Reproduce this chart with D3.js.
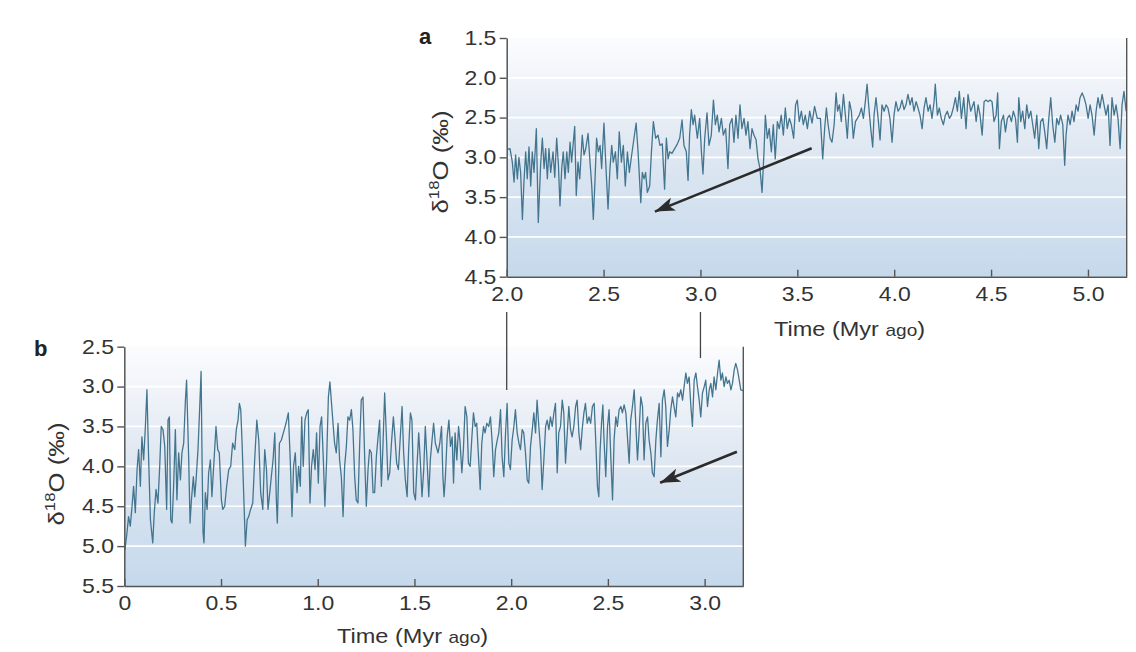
<!DOCTYPE html>
<html>
<head>
<meta charset="utf-8">
<title>δ18O records</title>
<script src="https://cdn.jsdelivr.net/npm/d3@7/dist/d3.min.js"></script>
<style>
body{margin:0;background:#fff;}
</style>
</head>
<body>
<div id="viz"></div>
<script>
// panel a : 2.0 - 5.2 Myr
var aTime = [
2.005,2.017,2.029,2.038,2.046,2.055,2.063,2.072,2.081,2.089,
2.098,2.106,2.115,2.124,2.132,2.141,2.153,2.163,2.175,2.184,
2.193,2.201,2.210,2.218,2.227,2.239,2.248,2.258,2.267,2.275,
2.284,2.292,2.301,2.310,2.318,2.327,2.335,2.351,2.359,2.368,
2.377,2.390,2.399,2.408,2.420,2.430,2.439,2.447,2.456,2.464,
2.473,2.482,2.490,2.502,2.511,2.523,2.533,2.542,2.550,2.561,
2.571,2.581,2.592,2.602,2.612,2.623,2.633,2.645,2.657,2.668,
2.678,2.692,2.700,2.709,2.717,2.726,2.738,2.747,2.757,2.769,
2.781,2.791,2.803,
2.815,2.824,2.833,2.841,2.853,2.867,2.881,2.893,2.905,2.915,
2.927,2.936,2.944,2.953,2.962,2.970,2.984,2.996,3.005,3.013,
3.022,3.034,3.044,3.056,3.067,3.077,3.087,3.096,3.108,3.118,
3.130,3.142,3.151,3.163,3.173,3.183,3.194,3.204,3.214,3.225,
3.235,3.245,3.256,3.266,3.276,3.287,3.297,3.307,3.318,3.328,
3.335,3.345,3.355,3.366,3.376,3.386,3.397,3.407,3.417,3.428,
3.438,3.448,3.459,3.469,3.481,3.491,3.500,3.510,3.521,3.531,
3.541,3.552,3.564,3.576,3.589,3.603,
3.619,3.631,3.641,3.650,3.659,3.669,3.679,3.690,3.700,3.708,
3.717,3.727,3.738,3.748,3.758,3.769,3.779,3.789,3.800,3.810,
3.820,3.831,3.841,3.851,3.860,3.868,3.879,3.889,3.896,3.906,
3.917,3.927,3.937,3.948,3.958,3.968,3.978,3.989,3.999,4.009,
4.020,4.030,4.040,4.051,4.061,4.071,4.082,4.092,4.102,4.113,
4.123,4.133,4.144,4.154,4.164,4.175,4.185,4.195,4.206,4.212,
4.223,4.233,4.243,4.254,4.264,4.274,4.285,4.295,4.305,4.316,
4.326,4.336,4.347,4.359,4.371,4.381,4.395,
4.412,4.423,4.433,4.443,4.454,4.464,4.474,4.485,4.495,4.505,
4.515,4.526,4.534,4.543,4.553,4.564,4.574,4.584,4.595,4.605,
4.615,4.626,4.636,4.643,4.653,4.663,4.674,4.684,4.694,4.705,
4.715,4.725,4.736,4.746,4.756,4.767,4.777,4.787,4.798,4.808,
4.818,4.829,4.839,4.849,4.859,4.870,4.880,4.887,4.897,4.908,
4.918,4.928,4.939,4.949,4.959,4.970,4.980,4.990,5.001,5.011,
5.021,5.032,5.042,5.052,5.062,5.073,5.083,5.093,5.104,5.114,
5.124,5.135,5.145,5.155,5.166,5.176,5.186,5.197];
var aD18O = [
2.90,2.89,3.06,3.31,2.97,3.27,3.00,3.19,3.78,3.31,
2.93,3.27,2.87,3.36,2.93,3.19,2.64,3.82,3.10,2.76,
3.14,2.89,3.27,2.89,3.19,2.93,3.25,2.76,3.10,3.61,
3.14,2.93,3.27,2.93,3.19,2.81,3.06,2.61,3.48,3.06,
3.27,2.72,2.97,2.89,2.70,3.06,3.36,3.78,3.27,2.76,
2.93,2.85,3.14,2.57,3.06,3.65,3.14,2.85,3.06,2.93,
3.27,2.68,3.06,2.85,3.36,2.93,3.19,2.97,2.76,2.57,
2.93,3.57,3.19,3.27,3.19,3.44,3.36,2.93,2.55,2.76,
2.72,2.85,2.83,
3.40,2.76,3.02,2.93,2.95,2.89,2.83,2.76,2.53,2.85,
2.93,3.29,2.72,2.40,2.59,2.47,2.76,2.51,2.93,3.21,
2.76,2.44,2.85,2.72,2.28,2.59,2.47,2.68,2.51,2.72,
2.64,3.14,2.59,2.51,2.81,2.47,2.76,2.34,2.64,2.51,
2.72,2.55,2.89,2.64,2.72,2.78,3.02,3.14,3.44,2.93,
2.47,2.76,2.64,2.93,2.59,3.02,2.55,2.64,2.47,2.72,
2.38,2.64,2.51,2.59,2.76,2.34,2.28,2.55,2.42,2.59,
2.47,2.64,2.42,2.57,2.36,2.51,
2.51,3.02,2.64,2.38,2.59,2.76,2.81,2.59,2.19,2.42,
2.34,2.55,2.21,2.47,2.76,2.30,2.42,2.76,2.55,2.51,
2.47,2.38,2.51,2.30,2.08,2.34,2.64,2.87,2.47,2.25,
2.51,2.78,2.34,2.42,2.34,2.38,2.51,2.81,2.47,2.30,
2.42,2.38,2.28,2.40,2.34,2.21,2.34,2.25,2.42,2.30,
2.38,2.47,2.64,2.38,2.25,2.42,2.34,2.51,2.30,2.08,
2.47,2.38,2.51,2.59,2.47,2.42,2.51,2.47,2.38,2.25,
2.42,2.17,2.51,2.25,2.64,2.21,2.42,
2.30,2.55,2.34,2.47,2.72,2.30,2.28,2.30,2.28,2.30,
2.55,2.47,2.19,2.89,2.55,2.47,2.68,2.51,2.47,2.55,
2.42,2.51,2.81,2.25,2.55,2.42,2.64,2.34,2.51,2.42,
2.59,2.76,2.47,2.89,2.55,2.51,2.68,2.89,2.51,2.25,
2.59,2.81,2.51,2.59,2.47,2.59,3.10,2.72,2.47,2.59,
2.42,2.55,2.34,2.42,2.25,2.19,2.25,2.34,2.51,2.34,
2.47,2.72,2.42,2.25,2.38,2.21,2.34,2.47,2.34,2.85,
2.25,2.47,2.34,2.51,2.89,2.34,2.17,2.42];

// panel b : 0 - 3.2 Myr
var bTime = [
0.003,0.014,0.022,0.031,0.040,0.048,0.057,0.066,0.074,0.083,
0.091,0.100,0.109,0.117,0.126,0.135,0.147,0.155,0.164,0.174,
0.183,0.191,0.200,0.209,0.219,0.226,0.233,0.240,0.247,0.255,
0.264,0.272,0.281,0.290,0.298,0.307,0.316,0.322,0.333,0.340,
0.347,0.357,0.364,0.371,0.381,0.390,0.397,0.402,0.407,0.412,
0.419,0.428,0.436,0.445,0.453,0.464,0.474,0.483,0.491,0.502,
0.509,0.519,0.529,0.540,0.550,0.560,0.571,0.579,0.588,0.595,
0.602,0.609,0.617,0.626,0.635,0.643,0.653,0.664,0.674,0.685,
0.695,0.705,0.716,0.726,0.735,0.743,0.752,0.760,0.769,0.778,
0.786,0.791,0.802,0.812,
0.827,0.836,0.848,0.858,0.867,0.875,0.884,0.893,0.901,0.910,
0.917,0.925,0.934,0.943,0.951,0.960,0.968,0.977,0.986,0.994,
1.003,1.012,1.020,1.029,1.037,1.046,1.055,1.063,1.070,1.079,
1.087,1.096,1.105,1.113,1.122,1.131,1.139,1.148,1.156,1.165,
1.174,1.182,1.191,1.199,1.208,1.217,1.225,1.234,1.243,1.251,
1.260,1.268,1.277,1.286,1.294,1.303,1.312,1.320,1.329,1.337,
1.346,1.355,1.363,1.372,1.381,1.391,1.399,1.408,1.417,1.425,
1.436,1.444,1.453,1.462,1.470,1.479,1.487,1.496,1.505,1.513,
1.522,1.530,1.539,1.548,1.556,1.565,1.574,1.582,1.591,1.599,
1.608,
1.622,1.631,1.640,1.647,1.653,1.660,1.669,1.678,1.686,1.695,
1.702,1.710,1.719,1.728,1.736,1.745,1.753,1.762,1.771,1.779,
1.788,1.797,1.805,1.814,1.822,1.831,1.840,1.848,1.857,1.865,
1.874,1.884,1.893,1.902,1.910,1.919,1.928,1.936,1.945,1.953,
1.962,1.971,1.979,1.988,1.996,2.005,2.014,2.022,2.031,2.040,
2.048,2.057,2.065,2.074,2.083,2.091,2.100,2.109,2.117,2.126,
2.134,2.143,2.152,2.160,2.169,2.178,2.186,2.195,2.203,2.212,
2.221,2.229,2.238,2.246,2.255,2.264,2.272,2.281,2.290,2.298,
2.307,2.315,2.324,2.333,2.341,2.350,2.359,2.367,2.376,2.384,
2.393,2.402,
2.411,2.420,2.429,2.437,2.446,2.453,2.460,2.467,2.474,2.480,
2.489,2.498,2.506,2.515,2.524,2.532,2.541,2.549,2.558,2.567,
2.575,2.584,2.593,2.601,2.610,2.618,2.627,2.636,2.644,2.653,
2.661,2.670,2.679,2.687,2.696,2.705,2.713,2.722,2.730,2.739,
2.748,2.756,2.765,2.774,2.782,2.791,2.799,2.808,2.817,2.825,
2.834,2.842,2.851,2.860,2.868,2.877,2.886,2.894,2.903,2.911,
2.920,2.929,2.937,2.946,2.955,2.963,2.972,2.980,2.989,2.998,
3.006,3.015,3.024,3.032,3.041,3.049,3.058,3.067,3.075,3.084,
3.092,3.101,3.110,3.118,3.127,3.136,3.144,3.153,3.161,3.170,
3.179,3.187,3.198];
var bD18O = [
5.05,4.83,4.63,4.75,4.50,4.25,4.58,4.04,3.79,4.25,
3.63,3.92,3.50,3.04,3.92,4.67,4.96,4.58,4.29,4.46,
4.00,3.50,3.54,3.75,4.54,3.42,3.38,4.67,4.71,4.25,
3.54,4.42,3.83,4.17,3.83,3.71,3.17,2.92,3.92,4.71,
4.42,4.13,4.38,4.17,3.79,3.25,2.81,3.92,4.83,4.96,
4.33,4.54,4.08,3.92,4.38,3.92,3.50,3.79,3.83,4.42,
4.54,4.50,4.25,4.04,4.00,3.71,3.79,3.54,3.42,3.21,
3.29,3.71,4.33,5.00,4.67,4.63,4.54,4.46,3.92,3.42,
3.67,4.33,4.54,3.79,4.04,4.54,4.33,4.13,3.92,3.58,
4.42,4.71,3.71,3.67,
3.54,3.46,3.33,3.92,4.63,4.00,3.83,4.33,4.00,4.25,
3.38,4.00,3.42,3.33,3.29,4.46,4.00,3.79,4.04,3.58,
4.21,3.50,3.38,3.92,4.50,3.92,3.13,2.94,3.17,3.46,
3.71,3.83,3.46,3.92,4.13,4.63,4.00,3.75,3.38,3.42,
3.29,3.54,4.13,4.42,4.46,3.71,3.17,3.13,3.92,4.50,
4.04,3.79,3.83,4.33,4.33,3.88,3.63,3.42,4.25,3.75,
3.08,3.63,4.17,4.08,3.71,3.38,3.63,3.96,4.04,3.71,
3.25,3.83,4.17,4.38,3.79,3.33,3.42,4.33,4.42,4.00,
3.58,3.92,4.38,4.04,3.50,3.92,4.38,3.92,3.67,3.46,
3.71,
3.83,3.71,3.50,4.13,4.38,4.13,3.63,3.42,3.75,3.63,
4.21,3.58,3.92,3.50,3.71,4.08,3.79,3.25,3.38,3.96,
4.00,3.63,3.33,3.50,3.46,3.88,4.29,3.71,3.50,3.58,
3.46,3.50,3.38,3.71,4.13,3.79,3.67,3.58,3.29,3.88,
4.13,3.58,3.21,3.96,4.04,3.67,3.50,3.29,3.58,3.71,
3.79,3.54,3.58,3.83,4.17,4.21,3.75,3.54,3.33,3.58,
3.17,3.50,3.79,4.29,3.92,3.50,3.42,3.54,3.38,3.50,
3.33,3.21,4.08,3.58,3.50,3.17,3.33,3.96,3.58,3.25,
3.54,3.63,3.50,3.25,3.17,3.58,3.79,3.54,3.33,3.21,
3.46,3.38,
3.46,3.25,3.21,3.67,4.25,4.38,3.79,3.46,3.23,3.67,
4.13,3.50,3.29,3.88,4.42,3.67,3.38,3.50,3.29,3.25,
3.33,3.23,3.33,3.63,3.96,3.42,3.25,3.04,3.46,3.92,
3.58,3.13,3.25,3.92,3.46,3.38,3.67,3.83,4.08,4.13,
3.67,3.42,3.21,3.88,3.17,3.04,3.25,3.75,3.54,3.29,
3.13,3.25,3.38,3.08,3.13,3.04,3.17,3.00,2.83,2.96,
2.88,3.25,3.50,2.92,2.83,3.00,3.17,3.38,3.08,3.00,
2.92,3.25,3.04,2.96,3.13,2.88,3.04,2.83,2.67,2.92,
2.83,3.00,2.88,2.96,2.92,3.04,2.96,2.79,2.71,2.79,
2.92,3.04,3.05];

var aXTicks = [2.0, 2.5, 3.0, 3.5, 4.0, 4.5, 5.0];
var aYTicks = [1.5, 2.0, 2.5, 3.0, 3.5, 4.0, 4.5];
var bXTicks = [0, 0.5, 1.0, 1.5, 2.0, 2.5, 3.0];
var bYTicks = [2.5, 3.0, 3.5, 4.0, 4.5, 5.0, 5.5];

var width = 1136, height = 652;
var font = '"Liberation Sans", Arial, sans-serif';
var ink = '#333';

var svg = d3.select('#viz').append('svg')
	.attr('width', width)
	.attr('height', height);
var defs = svg.append('defs');

var grad = defs.append('linearGradient').attr('id', 'bg')
	.attr('x1', 0).attr('y1', 0).attr('x2', 0).attr('y2', 1);
grad.append('stop').attr('offset', '0%').attr('stop-color', '#fbfcfe');
grad.append('stop').attr('offset', '45%').attr('stop-color', '#e0e8f2');
grad.append('stop').attr('offset', '100%').attr('stop-color', '#c5d9ec');

defs.append('marker').attr('id', 'head')
	.attr('markerUnits', 'userSpaceOnUse')
	.attr('markerWidth', 22).attr('markerHeight', 14)
	.attr('refX', 20).attr('refY', 7)
	.attr('orient', 'auto')
	.append('path').attr('d', 'M0,0 L20,7 L0,14 L5,7 Z').attr('fill', '#2b2b2b');

function fmt(d){ return d === 0 ? '0' : d.toFixed(1); }

function drawPanel(p){
	var x = d3.scaleLinear().domain(p.xDomain).range([p.left, p.right]);
	var y = d3.scaleLinear().domain(p.yDomain).range([p.top, p.bottom]);
	var g = svg.append('g');

	g.append('rect')
		.attr('x', p.left).attr('y', p.top)
		.attr('width', p.right - p.left).attr('height', p.bottom - p.top)
		.attr('fill', 'url(#bg)');

	g.selectAll('line.grid')
		.data(p.yTicks.slice(1, -1))
		.join('line')
		.attr('class', 'grid')
		.attr('x1', p.left).attr('x2', p.right)
		.attr('y1', d => y(d)).attr('y2', d => y(d))
		.attr('stroke', '#fff').attr('stroke-width', 1.7);

	defs.append('clipPath').attr('id', 'clip-' + p.id)
		.append('rect')
		.attr('x', p.left).attr('y', p.top)
		.attr('width', p.right - p.left).attr('height', p.bottom - p.top);

	g.append('path')
		.datum(d3.zip(p.time, p.vals))
		.attr('clip-path', 'url(#clip-' + p.id + ')')
		.attr('fill', 'none')
		.attr('stroke', '#44758f')
		.attr('stroke-width', 1.3)
		.attr('stroke-linejoin', 'round')
		.attr('d', d3.line().x(d => x(d[0])).y(d => y(d[1])));

	// right frame line
	g.append('line')
		.attr('x1', p.right).attr('x2', p.right)
		.attr('y1', p.top).attr('y2', p.bottom)
		.attr('stroke', '#555').attr('stroke-width', 1.4);

	var ya = g.append('g')
		.attr('transform', 'translate(' + p.left + ',0)')
		.call(d3.axisLeft(y).tickValues(p.yTicks).tickFormat(fmt)
			.tickSizeInner(7).tickSizeOuter(0).tickPadding(2));
	var xa = g.append('g')
		.attr('transform', 'translate(0,' + p.bottom + ')')
		.call(d3.axisBottom(x).tickValues(p.xTicks).tickFormat(fmt)
			.tickSizeInner(-7).tickSizeOuter(0).tickPadding(10));

	[ya, xa].forEach(function(a){
		a.select('.domain').attr('stroke', '#555').attr('stroke-width', 1.5);
		a.selectAll('.tick line').attr('stroke', '#555').attr('stroke-width', 1.4);
		a.selectAll('.tick text')
			.attr('fill', ink)
			.style('font-family', font)
			.style('font-size', '20px')
			.attr('transform', 'scale(1.15,1)');
	});

	// panel letter
	g.append('text')
		.attr('x', p.letterX).attr('y', p.letterY)
		.style('font-family', font).style('font-size', '22px').style('font-weight', 'bold')
		.attr('fill', '#222')
		.text(p.letter);

	// y title
	var yt = g.append('text')
		.attr('transform', 'translate(' + p.yTitleX + ',' + p.yTitleY + ') rotate(-90) scale(1.12,1)')
		.attr('text-anchor', 'middle')
		.style('font-family', font).style('font-size', '23px')
		.attr('fill', ink);
	yt.append('tspan').text('δ');
	yt.append('tspan').attr('dy', -9).style('font-size', '15px').text('18');
	yt.append('tspan').attr('dy', 9).text('O (‰)');

	// x title
	var xt = g.append('text')
		.attr('transform', 'translate(' + x(p.xTitleAt) + ',' + p.xTitleY + ') scale(1.12,1)')
		.style('font-family', font).style('font-size', '21px')
		.attr('fill', ink);
	xt.append('tspan').text('Time (Myr ');
	xt.append('tspan').style('font-size', '17px').text('ago');
	xt.append('tspan').text(')');

	// arrow
	g.append('line')
		.attr('x1', x(p.arrow[0])).attr('y1', y(p.arrow[1]))
		.attr('x2', x(p.arrow[2])).attr('y2', y(p.arrow[3]))
		.attr('stroke', '#2b2b2b').attr('stroke-width', 2.6)
		.attr('marker-end', 'url(#head)');

	return x;
}

var xA = drawPanel({
	id: 'a', letter: 'a', time: aTime, vals: aD18O,
	xDomain: [2.0, 5.2], yDomain: [1.5, 4.5],
	xTicks: aXTicks, yTicks: aYTicks,
	left: 506.7, right: 1126.7, top: 38, bottom: 276.7,
	letterX: 419, letterY: 44,
	yTitleX: 448, yTitleY: 162,
	xTitleAt: 3.38, xTitleY: 336,
	arrow: [3.574, 2.886, 2.765, 3.682]
});

var xB = drawPanel({
	id: 'b', letter: 'b', time: bTime, vals: bD18O,
	xDomain: [0, 3.2], yDomain: [2.5, 5.5],
	xTicks: bXTicks, yTicks: bYTicks,
	left: 124.3, right: 743.3, top: 346.7, bottom: 586,
	letterX: 34, letterY: 356,
	yTitleX: 64, yTitleY: 474,
	xTitleAt: 1.1, xTitleY: 643,
	arrow: [3.167, 3.816, 2.770, 4.205]
});

// connectors from panel a's 2.0 and 3.0 down to panel b
svg.selectAll('line.link')
	.data([[2.0, 390], [3.0, 358]])
	.join('line')
	.attr('class', 'link')
	.attr('x1', d => xA(d[0])).attr('x2', d => xA(d[0]))
	.attr('y1', 312).attr('y2', d => d[1])
	.attr('stroke', '#444').attr('stroke-width', 1.3);
</script>
</body>
</html>
